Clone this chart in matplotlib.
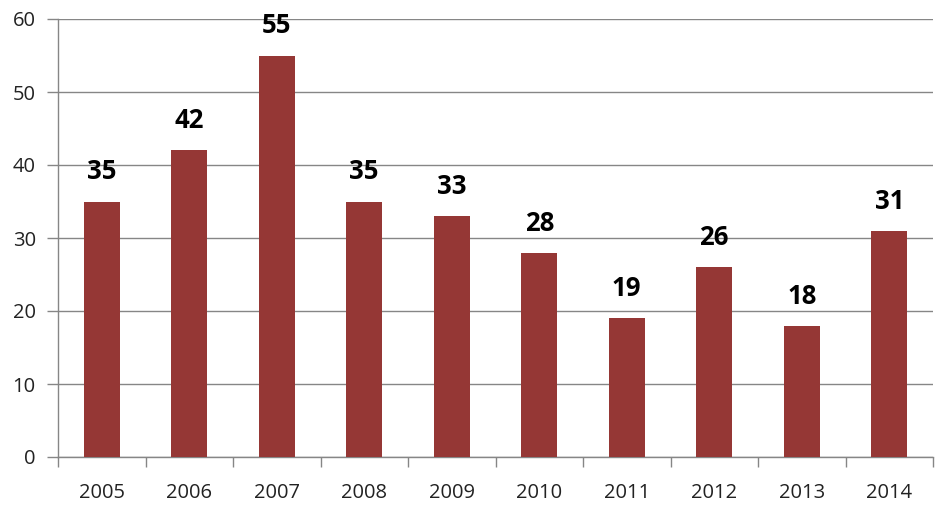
import matplotlib.pyplot as plt
import numpy as np

years = ['2005', '2006', '2007', '2008', '2009', '2010', '2011', '2012', '2013', '2014']
values = [35, 42, 55, 35, 33, 28, 19, 26, 18, 31]

plt.rcParams['font.family'] = ['Open Sans', 'DejaVu Sans']

fig = plt.figure(figsize=(9.48, 5.15), dpi=100)
ax = fig.add_axes([58 / 948, 58 / 515, 875 / 948, 438 / 515])

x = np.arange(len(years))
ax.bar(x, values, width=0.41, color='#953735', zorder=3)

for xi, v in zip(x, values):
    ax.text(xi, v + 2.2, str(v), ha='center', va='bottom',
            fontsize=18.5, fontweight='bold', color='black')

ax.set_xlim(-0.5, len(years) - 0.5)
ax.set_ylim(0, 60)
ax.set_yticks(range(0, 61, 10))
ax.yaxis.grid(True, color='#868686', linewidth=1, zorder=0)

# category labels centred, tick marks at boundaries
ax.set_xticks(x)
ax.set_xticklabels(years, fontsize=14.5, color='#222222')
ax.tick_params(axis='x', which='major', length=0, pad=19)
ax.set_xticks(np.arange(-0.5, len(years)), minor=True)
ax.tick_params(axis='x', which='minor', length=7, color='#868686', width=1)
ax.tick_params(axis='y', length=8, color='#868686', width=1, labelsize=14.5,
               labelcolor='#222222', pad=8)

for side in ['top', 'right']:
    ax.spines[side].set_visible(False)
for side in ['left', 'bottom']:
    ax.spines[side].set_color('#868686')
    ax.spines[side].set_linewidth(1)

fig.savefig('out.png', dpi=100, facecolor='white')
